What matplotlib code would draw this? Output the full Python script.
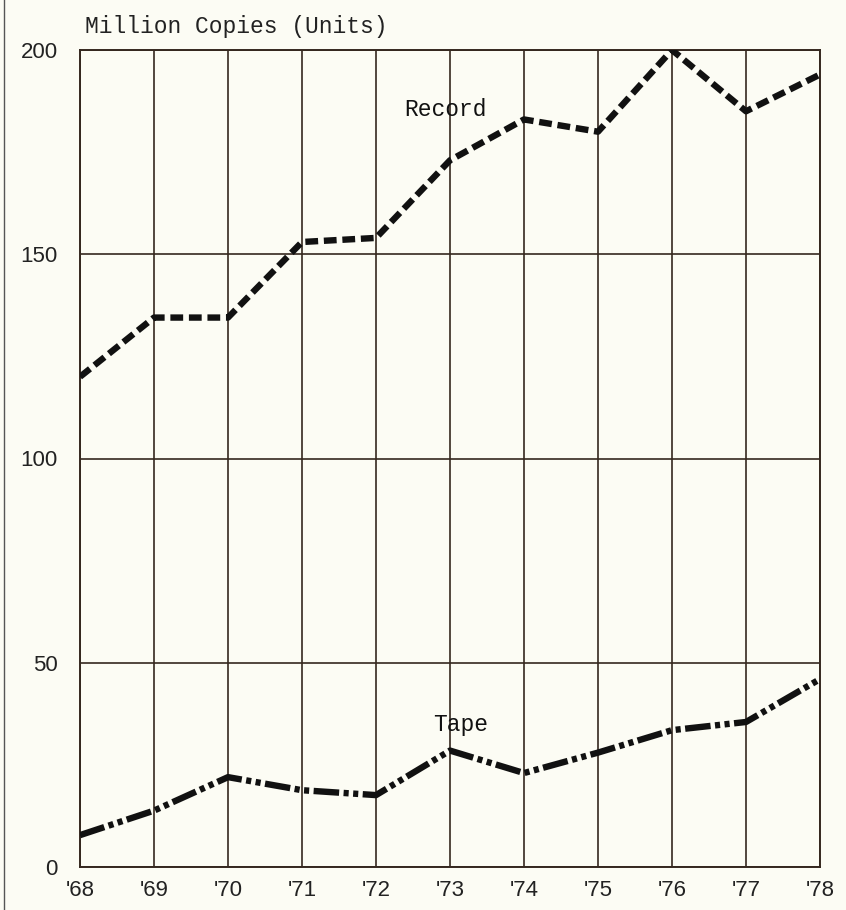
"""
Record vs. tape unit sales, 1968-1978 (million copies).
"""
import matplotlib
matplotlib.use("Agg")
import matplotlib.pyplot as plt
from matplotlib.lines import Line2D

# ── data ──────────────────────────────────────────────────────────────────────
YEARS = [1968, 1969, 1970, 1971, 1972, 1973, 1974, 1975, 1976, 1977, 1978]
YEAR_LABELS = ["'68", "'69", "'70", "'71", "'72", "'73", "'74", "'75", "'76", "'77", "'78"]
RECORD = [120, 134.5, 134.5, 153, 154, 173, 183, 180, 200, 185, 194]
TAPE = [7.8, 13.8, 22, 18.8, 17.6, 28.5, 23, 28, 33.5, 35.5, 46]
Y_TICKS = [0, 50, 100, 150, 200]

# ── style ─────────────────────────────────────────────────────────────────────
BG = "#fcfcf4"
GRID = "#35281f"
INK = "#111111"
MONO = "Liberation Mono"
SANS = "Liberation Sans"

fig = plt.figure(figsize=(8.46, 9.10), dpi=100, facecolor=BG)
ax = fig.add_axes([80 / 846, 43 / 910, 740 / 846, 817 / 910], facecolor=BG)

ax.set_xlim(YEARS[0], YEARS[-1])
ax.set_ylim(0, 200)

# grid: every year vertically, every 50 horizontally
for yr in YEARS:
    ax.axvline(yr, color=GRID, lw=1.2, zorder=1)
for v in Y_TICKS:
    ax.axhline(v, color=GRID, lw=1.2, zorder=1)
for s in ax.spines.values():
    s.set_color(GRID)
    s.set_linewidth(1.4)

ax.plot(YEARS, RECORD, color=INK, lw=4.6, dashes=(2.0, 0.9),
        dash_capstyle="butt", zorder=3)
ax.plot(YEARS, TAPE, color=INK, lw=4.6, dashes=(4.0, 0.7, 0.8, 0.7, 0.8, 0.7),
        dash_capstyle="butt", zorder=3)

ax.text(1973 - 0.06, 185.5, "Record", family=MONO, fontsize=16.5, color=INK,
        ha="center", va="center", zorder=4)
ax.text(1973 + 0.14, 35, "Tape", family=MONO, fontsize=16.5, color=INK,
        ha="center", va="center", zorder=4)

ax.set_xticks(YEARS)
ax.set_xticklabels(YEAR_LABELS, family=SANS, fontsize=16, color="#222222")
ax.set_yticks(Y_TICKS)
ax.set_yticklabels([str(v) for v in Y_TICKS], family=SANS, fontsize=16, color="#222222")
ax.tick_params(length=0)
ax.tick_params(axis="x", pad=9)
ax.tick_params(axis="y", pad=16)

fig.text(85 / 846, 1 - 27 / 910, "Million Copies (Units)", family=MONO,
         fontsize=16.5, color="#222222", ha="left", va="center")

# page edge on the left
fig.add_artist(Line2D([4 / 846, 4 / 846], [0, 1], color="#555555", lw=1.0))

fig.savefig("out.png", dpi=100, facecolor=BG)
